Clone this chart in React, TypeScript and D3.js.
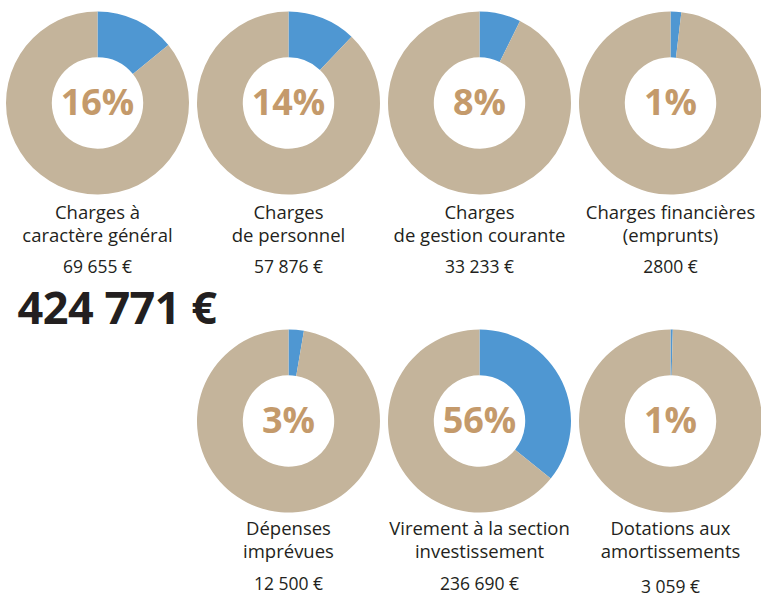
import React from "react";
import * as d3 from "d3";

// ---- data ----
const categories: string[][] = [
  ["Charges à", "caractère général"],
  ["Charges", "de personnel"],
  ["Charges", "de gestion courante"],
  ["Charges financières", "(emprunts)"],
  ["Dépenses", "imprévues"],
  ["Virement à la section", "investissement"],
  ["Dotations aux", "amortissements"],
];
const amounts: string[] = [
  "69 655 €",
  "57 876 €",
  "33 233 €",
  "2800 €",
  "12 500 €",
  "236 690 €",
  "3 059 €",
];
const percentLabels: string[] = ["16%", "14%", "8%", "1%", "3%", "56%", "1%"];
// share of the ring drawn in blue
const shares: number[] = [0.141, 0.121, 0.073, 0.019, 0.027, 0.358, 0.004];
const totalLabel = "424 771 €";

const W = 761;
const H = 599;
const BLUE = "#4F97D2";
const TAN = "#C4B49B";
const PCT = "#C49A6B";
const INK = "#231F20";
const FONT = "'Open Sans', 'DejaVu Sans', sans-serif";

export default function App() {
  const x = d3.scalePoint<number>().domain([0, 1, 2, 3]).range([97.5, 670.5]);
  const y = d3.scalePoint<number>().domain([0, 1]).range([103, 421]);
  const outerR = 91.5;
  const innerR = 45.7;
  const arc = d3.arc<d3.PieArcDatum<number>>().innerRadius(innerR).outerRadius(outerR);
  const pie = d3.pie<number>().sort(null).value((d) => d);

  const slots = shares.map((_, i) =>
    i < 4 ? { c: i, r: 0 } : { c: i - 3, r: 1 }
  );

  return (
    <svg
      width={W}
      height={H}
      style={{ position: "absolute", left: 0, top: 0, background: "#fff" }}
      fontFamily={FONT}
    >
      {shares.map((s, i) => {
        const cx = x(slots[i].c)!;
        const cy = y(slots[i].r)!;
        const arcs = pie([s, 1 - s]);
        const base = slots[i].r === 0 ? [219, 242, 273] : [535, 558, 590];
        return (
          <g key={i}>
            <g transform={`translate(${cx},${cy})`}>
              {arcs.map((a, j) => (
                <path key={j} d={arc(a) || ""} fill={j === 0 ? BLUE : TAN} />
              ))}
              <text
                x={0}
                y={12}
                textAnchor="middle"
                fontSize={36}
                fontWeight={700}
                fill={PCT}
              >
                {percentLabels[i]}
              </text>
            </g>
            {categories[i].map((line, k) => (
              <text
                key={k}
                x={cx}
                y={base[k]}
                textAnchor="middle"
                fontSize={18.5}
                fill={INK}
              >
                {line}
              </text>
            ))}
            <text
              x={cx}
              y={base[2] + (i === 6 ? 3 : 0)}
              textAnchor="middle"
              fontSize={17.5}
              fill={INK}
            >
              {amounts[i]}
            </text>
          </g>
        );
      })}
      <text
        x={117}
        y={324}
        textAnchor="middle"
        fontSize={45}
        fontWeight={700}
        fill={INK}
        letterSpacing={-0.5}
      >
        {totalLabel}
      </text>
    </svg>
  );
}
